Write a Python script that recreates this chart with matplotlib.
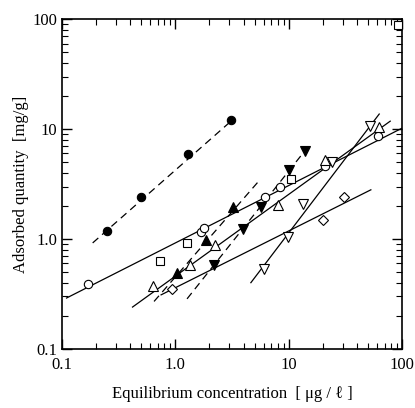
import matplotlib
matplotlib.use("Agg")
import matplotlib.pyplot as plt
from matplotlib.ticker import LogLocator, FixedLocator, FixedFormatter, NullFormatter

plt.rcParams['font.family'] = ['Liberation Serif', 'DejaVu Serif']

# data (x: ug/l, y: mg/g)
fill_circ_x = [0.25, 0.5, 1.3, 3.1]
fill_circ_y = [1.18, 2.4, 5.9, 12.0]
open_circ_x = [0.17, 1.69, 1.78, 6.15, 8.3, 20.7, 61.5]
open_circ_y = [0.39, 1.16, 1.25, 2.41, 2.97, 4.6, 8.6]
square_x = [0.74, 1.27, 10.4, 92]
square_y = [0.63, 0.92, 3.5, 88]
fill_up_x = [1.04, 1.87, 3.2]
fill_up_y = [0.49, 0.97, 1.95]
open_up_x = [0.63, 1.36, 2.24, 8.0, 20.7, 62.8]
open_up_y = [0.37, 0.58, 0.88, 2.04, 5.2, 10.4]
fill_dn_x = [2.2, 3.95, 5.7, 10.0, 13.8]
fill_dn_y = [0.58, 1.23, 1.95, 4.2, 6.3]
open_dn_x = [6.0, 9.8, 13.3, 24.3, 52]
open_dn_y = [0.53, 1.04, 2.08, 5.0, 10.6]
diam_x = [0.94, 19.9, 31]
diam_y = [0.35, 1.49, 2.41]

# fitted isotherm lines (end points)
line_fill_circ = ([0.187, 3.1], [0.92, 11.8])
line_open_circ = ([0.11, 100], [0.29, 10.2])
line_fill_up = ([0.65, 5.5], [0.27, 3.4])
line_open_up = ([0.42, 78.5], [0.24, 11.8])
line_fill_dn = ([1.27, 15.8], [0.285, 7.5])
line_open_dn = ([4.64, 62.8], [0.40, 13.7])
line_diam = ([0.75, 53], [0.31, 2.8])

fig = plt.figure(figsize=(4.15, 4.08), dpi=100)
ax = fig.add_axes([0.149, 0.145, 0.82, 0.808])

dash = (0, (6, 4))
lw = 0.9
ax.plot(*line_fill_circ, color='k', lw=lw, linestyle=dash)
ax.plot(*line_open_circ, color='k', lw=lw)
ax.plot(*line_fill_up, color='k', lw=lw, linestyle=dash)
ax.plot(*line_open_up, color='k', lw=lw)
ax.plot(*line_fill_dn, color='k', lw=lw, linestyle=dash)
ax.plot(*line_open_dn, color='k', lw=lw)
ax.plot(*line_diam, color='k', lw=lw)

ms = 6
mk = dict(linestyle='none', markeredgecolor='k', markeredgewidth=0.8, clip_on=False, zorder=3)
ax.plot(fill_circ_x, fill_circ_y, marker='o', markerfacecolor='k', markersize=ms, **mk)
ax.plot(open_circ_x, open_circ_y, marker='o', markerfacecolor='white', markersize=ms, **mk)
ax.plot(square_x, square_y, marker='s', markerfacecolor='white', markersize=ms - 0.5, **mk)
ax.plot(fill_up_x, fill_up_y, marker='^', markerfacecolor='k', markersize=ms + 1, **mk)
ax.plot(open_up_x, open_up_y, marker='^', markerfacecolor='white', markersize=ms + 1, **mk)
ax.plot(fill_dn_x, fill_dn_y, marker='v', markerfacecolor='k', markersize=ms + 1, **mk)
ax.plot(open_dn_x, open_dn_y, marker='v', markerfacecolor='white', markersize=ms + 1, **mk)
ax.plot(diam_x, diam_y, marker='D', markerfacecolor='white', markersize=ms - 1, **mk)

ax.set_xscale('log')
ax.set_yscale('log')
ax.set_xlim(0.1, 100)
ax.set_ylim(0.1, 100)

ticks = [0.1, 1, 10, 100]
labels = ['0.1', '1.0', '10', '100']
for axis in (ax.xaxis, ax.yaxis):
    axis.set_major_locator(FixedLocator(ticks))
    axis.set_major_formatter(FixedFormatter(labels))
    axis.set_minor_locator(LogLocator(base=10, subs=range(2, 10)))
    axis.set_minor_formatter(NullFormatter())

ax.tick_params(which='both', direction='in', top=True, right=True, labelsize=12)
ax.tick_params(which='major', length=7, width=1)
ax.tick_params(which='minor', length=4, width=0.8)
ax.tick_params(axis='x', pad=6)
for s in ax.spines.values():
    s.set_linewidth(1.2)

ax.set_xlabel('Equilibrium concentration  [ μg / ℓ ]', fontsize=12, labelpad=9)
ax.set_ylabel('Adsorbed quantity  [mg/g]', fontsize=12, labelpad=2)

fig.savefig('out.png', dpi=100)
